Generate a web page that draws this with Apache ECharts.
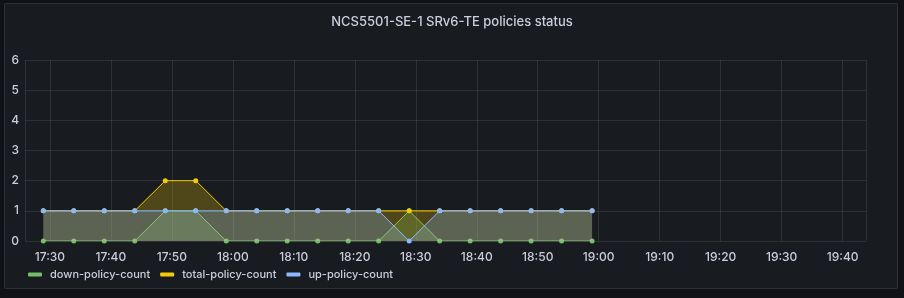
<!DOCTYPE html>
<html>
<head>
<meta charset="utf-8">
<script src="https://cdn.jsdelivr.net/npm/echarts@6/dist/echarts.min.js"></script>
<style>
html,body{margin:0;padding:0;background:#111217;}
#wrap{position:absolute;left:4px;top:3px;width:894px;height:286px;background:#181b1f;border:1px solid rgba(204,204,220,0.12);border-radius:2px;box-sizing:border-box;}
#chart{position:absolute;left:0;top:0;width:904px;height:298px;}
</style>
</head>
<body>
<div id="wrap"></div>
<div id="chart"></div>
<script>
// Sample times (HH:MM:SS), every 5 minutes
const times = ["17:28:55","17:33:55","17:38:55","17:43:55","17:48:55","17:53:55","17:58:55","18:03:55","18:08:55","18:13:55","18:18:55","18:23:55","18:28:55","18:33:55","18:38:55","18:43:55","18:48:55","18:53:55","18:58:55"];
const downPolicyCount  = [0,0,0,0,1,1,0,0,0,0,0,0,1,0,0,0,0,0,0];
const totalPolicyCount = [1,1,1,1,2,2,1,1,1,1,1,1,1,1,1,1,1,1,1];
const upPolicyCount    = [1,1,1,1,1,1,1,1,1,1,1,1,0,1,1,1,1,1,1];
const yTicks = [0,1,2,3,4,5,6];
const seriesNames = ["down-policy-count","total-policy-count","up-policy-count"];
const colors = ["#73BF69","#F2CC0C","#8AB8FF"];

function toTs(s){const p=s.split(":").map(Number);return new Date(2022,0,1,p[0],p[1],p[2]).getTime();}
const xMin = toTs("17:25:55");
const xMax = toTs("19:43:50");
const allData = [downPolicyCount,totalPolicyCount,upPolicyCount];

const chart = echarts.init(document.getElementById('chart'),null,{renderer:'canvas'});
const txt = '#ccccdc';
const gridCol = 'rgba(204,204,220,0.12)';
chart.setOption({
  backgroundColor:'transparent',
  animation:false,
  textStyle:{fontFamily:'Inter'},
  title:{text:'NCS5501-SE-1 SRv6-TE policies status',left:'center',top:11,
    textStyle:{color:txt,fontSize:13,fontWeight:500,fontFamily:'Inter'}},
  legend:{left:28,top:269,padding:0,itemWidth:14,itemHeight:4,itemGap:10,icon:'roundRect',
    textStyle:{color:txt,fontSize:11,fontWeight:500,fontFamily:'Inter',padding:[0,0,0,3]},
    data:seriesNames},
  grid:{left:25,right:38,top:60,bottom:57},
  xAxis:{type:'time',min:xMin,max:xMax,splitNumber:13,
    axisLine:{show:false},axisTick:{show:false},
    splitLine:{show:true,lineStyle:{color:gridCol,width:1}},
    axisLabel:{color:txt,fontSize:12,fontWeight:500,margin:10,showMinLabel:false,showMaxLabel:false,
      formatter:function(v){const d=new Date(v);return String(d.getHours()).padStart(2,'0')+':'+String(d.getMinutes()).padStart(2,'0');}}},
  yAxis:{type:'value',min:yTicks[0],max:yTicks[yTicks.length-1],interval:1,
    axisLine:{show:false},axisTick:{show:false},
    splitLine:{lineStyle:{color:gridCol,width:1}},
    axisLabel:{color:txt,fontSize:12,fontWeight:500,margin:6}},
  series:seriesNames.map((n,i)=>({
    name:n,type:'line',
    data:times.map((t,k)=>[toTs(t),allData[i][k]]),
    symbol:'circle',symbolSize:5,showSymbol:true,
    lineStyle:{width:1,color:colors[i]},
    itemStyle:{color:colors[i]},
    areaStyle:{color:colors[i],opacity:0.25},
    z:2+i
  }))
});
</script>
</body>
</html>
